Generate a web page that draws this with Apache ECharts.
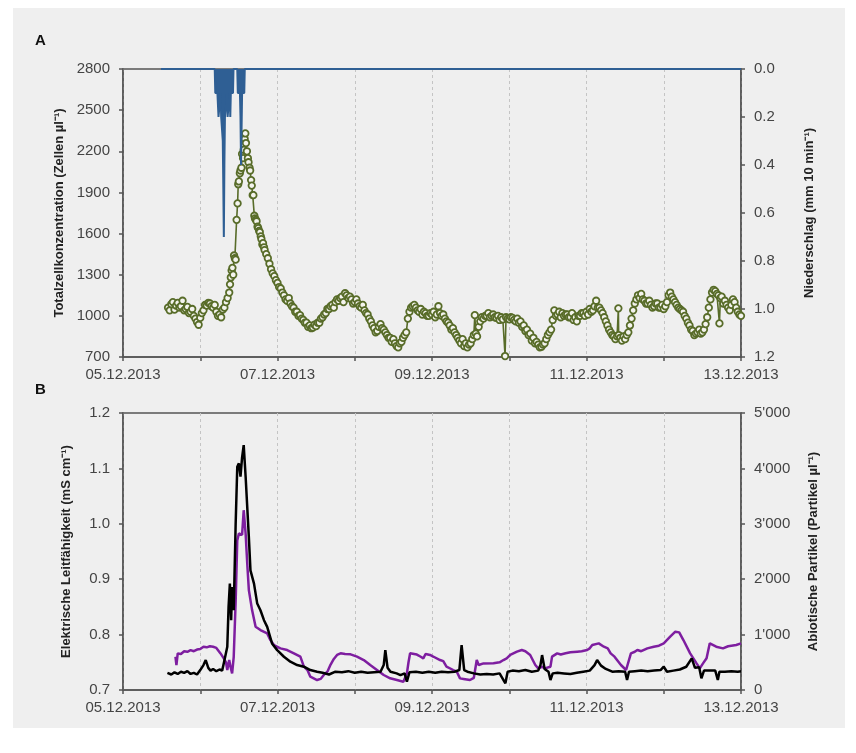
<!DOCTYPE html>
<html><head><meta charset="utf-8">
<script src="https://cdn.jsdelivr.net/npm/echarts@6/dist/echarts.min.js"></script>
<style>html,body{margin:0;padding:0;background:#fff;}#c{width:856px;height:753px;}</style>
</head><body><div id="c"></div>
<script>
// x values are hours since 05.12.2013 00:00
const xTickLabels = ['05.12.2013','','07.12.2013','','09.12.2013','','11.12.2013','','13.12.2013'];

// Niederschlag (mm 10 min-1)
const precip = [[11.8,0],[28.5,0],[28.67,0.1],[28.83,0.1],[29.0,0.1],[29.17,0.1],[29.33,0.1],[29.5,0.1],[29.67,0.2],[29.83,0.2],[30.0,0.2],[30.17,0.2],[30.33,0.1],[30.5,0.2],[30.67,0.2],[30.83,0.2],[31.0,0.3],[31.17,0.5],[31.33,0.7],[31.5,0.4],[31.67,0.2],[31.83,0.2],[32.0,0.2],[32.17,0.2],[32.33,0.1],[32.5,0.2],[32.67,0.2],[32.83,0.2],[33.0,0.2],[33.17,0.1],[33.33,0.2],[33.5,0.1],[33.67,0.1],[33.83,0.1],[34.0,0.1],[34.17,0.1],[34.33,0],[35.5,0],[35.67,0.1],[35.83,0.1],[36.0,0.1],[36.17,0.1],[36.33,0.1],[36.5,0.2],[36.67,0.4],[36.83,0.4],[37.0,0.1],[37.17,0.1],[37.33,0.1],[37.5,0.1],[37.67,0.1],[37.83,0],[192,0]];

// Totalzellkonzentration (Zellen µl-1)
const cells = [[14,1060],[14.5,1040],[15,1085],[15.5,1100],[16,1045],[16.5,1075],[17,1095],[17.5,1060],[18,1070],[18.5,1110],[19,1040],[19.5,1050],[20,1065],[20.5,1020],[21,1030],[21.5,1050],[22,1000],[22.5,980],[23,955],[23.5,935],[24,985],[24.5,1020],[25,1040],[25.5,1080],[26,1075],[26.5,1095],[27,1090],[27.5,1070],[28,1060],[28.5,1080],[29,1030],[29.5,1000],[30,1010],[30.5,990],[31,1045],[31.5,1060],[32,1100],[32.5,1130],[33,1170],[33.25,1230],[33.5,1280],[33.75,1330],[34,1350],[34.25,1300],[34.5,1440],[34.75,1420],[35,1410],[35.3,1700],[35.6,1820],[35.8,1960],[36,1980],[36.3,2040],[36.5,2060],[36.8,2080],[37,2180],[37.3,2150],[37.5,2210],[37.8,2290],[38,2330],[38.2,2260],[38.5,2200],[38.8,2150],[39,2120],[39.3,2080],[39.5,2060],[39.8,1990],[40,1950],[40.3,1880],[40.5,1880],[40.8,1730],[41,1710],[41.3,1700],[41.5,1690],[41.8,1650],[42,1640],[42.3,1620],[42.5,1610],[42.8,1580],[43,1560],[43.3,1520],[43.5,1530],[43.8,1500],[44,1480],[44.5,1450],[45,1420],[45.5,1380],[46,1340],[46.5,1310],[47,1290],[47.5,1260],[48,1240],[48.5,1210],[49,1200],[49.5,1170],[50,1150],[50.5,1120],[51,1110],[51.5,1130],[52,1090],[52.5,1070],[53,1060],[53.5,1030],[54,1030],[54.5,1000],[55,1005],[55.5,980],[56,970],[56.5,950],[57,950],[57.5,920],[58,930],[58.5,910],[59,915],[59.5,935],[60,925],[60.5,950],[61,950],[61.5,980],[62,990],[62.5,1010],[63,1020],[63.5,1050],[64,1050],[64.5,1070],[65,1080],[65.5,1060],[66,1100],[66.5,1120],[67,1110],[67.5,1130],[68,1140],[68.5,1100],[69,1165],[69.5,1150],[70,1130],[70.5,1140],[71,1120],[71.5,1090],[72,1100],[72.5,1120],[73,1090],[73.5,1070],[74,1060],[74.5,1080],[75,1040],[75.5,1020],[76,1010],[76.5,980],[77,960],[77.5,930],[78,910],[78.5,880],[79,890],[79.5,920],[80,940],[80.5,910],[81,900],[81.5,880],[82,860],[82.5,840],[83,840],[83.5,810],[84,830],[84.5,800],[85,780],[85.5,770],[86,800],[86.5,810],[87,840],[87.5,860],[88,880],[88.5,980],[89,1030],[89.5,1060],[90,1070],[90.5,1080],[91,1060],[91.5,1040],[92,1030],[92.5,1050],[93,1010],[93.5,1030],[94,1020],[94.5,1000],[95,1000],[95.5,1020],[96,1010],[96.5,1030],[97,990],[97.5,1010],[98,1070],[98.5,1020],[99,1000],[99.5,1010],[100,980],[100.5,960],[101,950],[101.5,930],[102,900],[102.5,910],[103,880],[103.5,860],[104,840],[104.5,820],[105,800],[105.5,830],[106,780],[106.5,800],[107,770],[107.5,790],[108,800],[108.5,830],[109,860],[109.3,1005],[109.6,870],[110,850],[110.5,920],[111,960],[111.5,990],[112,980],[112.5,1000],[113,1000],[113.5,1020],[114,990],[114.5,1000],[115,1010],[115.5,990],[116,985],[116.5,1000],[117,970],[117.5,990],[118,975],[118.7,707],[119,990],[119.5,980],[120,975],[120.5,990],[121,985],[121.5,970],[122,960],[122.5,980],[123,950],[123.5,960],[124,920],[124.5,930],[125,890],[125.5,900],[126,860],[126.5,870],[127,820],[127.5,840],[128,800],[128.5,810],[129,790],[129.5,770],[130,775],[130.5,790],[131,800],[131.5,830],[132,860],[132.5,880],[133,900],[133.5,970],[134,1040],[134.5,1000],[135,1010],[135.5,1030],[136,990],[136.5,1020],[137,1000],[137.5,1010],[138,1010],[138.5,990],[139,990],[139.5,1020],[140,970],[140.5,990],[141,960],[141.5,1000],[142,1000],[142.5,1020],[143,1020],[143.5,1000],[144,1030],[144.5,1010],[145,1050],[145.5,1030],[146,1040],[146.5,1070],[147,1110],[147.5,1060],[148,1060],[148.5,1040],[149,1020],[149.5,990],[150,960],[150.5,930],[151,900],[151.5,880],[152,860],[152.5,850],[153,830],[153.5,850],[153.9,1055],[154,860],[154.5,840],[155,820],[155.5,850],[156,830],[156.5,860],[157,880],[157.5,930],[158,980],[158.5,1040],[159,1090],[159.5,1120],[160,1150],[160.5,1130],[161,1160],[161.5,1120],[162,1110],[162.5,1090],[163,1090],[163.5,1110],[164,1080],[164.5,1060],[165,1070],[165.5,1090],[166,1090],[166.5,1060],[167,1060],[167.5,1080],[168,1050],[168.5,1070],[169,1100],[169.5,1150],[170,1170],[170.5,1140],[171,1120],[171.5,1100],[172,1080],[172.5,1060],[173,1050],[173.5,1040],[174,1030],[174.5,1000],[175,980],[175.5,950],[176,930],[176.5,900],[177,890],[177.5,860],[178,870],[178.5,880],[179,900],[179.5,870],[180,880],[180.5,900],[181,940],[181.5,990],[182,1060],[182.5,1120],[183,1170],[183.5,1190],[184,1180],[184.5,1160],[185,1150],[185.3,945],[185.6,1130],[186,1140],[186.5,1090],[187,1110],[187.5,1080],[188,1060],[188.5,1040],[189,1080],[189.5,1120],[190,1100],[190.5,1060],[191,1030],[191.5,1010],[192,1000]];

// Elektrische Leitfähigkeit (mS cm-1)
const conductivity = [[13.8,0.731],[15,0.728],[16,0.732],[17,0.729],[18,0.733],[19,0.731],[20,0.734],[21,0.729],[22,0.731],[23,0.728],[24,0.736],[25,0.745],[25.7,0.754],[26.5,0.74],[27.2,0.735],[28,0.738],[29,0.734],[30,0.737],[30.8,0.735],[31.3,0.748],[32.4,0.778],[32.8,0.85],[33.2,0.892],[33.6,0.826],[33.9,0.886],[34.4,0.844],[35.0,1.0],[35.5,1.103],[36.0,1.109],[36.5,1.085],[37.0,1.12],[37.5,1.142],[38.1,1.085],[38.6,1.03],[39.1,0.976],[39.6,0.916],[40.7,0.892],[41.7,0.856],[42.7,0.844],[43.8,0.826],[44.8,0.814],[46.3,0.784],[47.9,0.772],[50,0.76],[52,0.751],[54.1,0.745],[56.2,0.742],[58.2,0.736],[60.3,0.733],[62,0.731],[64,0.728],[66,0.733],[68,0.732],[70,0.734],[72,0.731],[74,0.733],[76,0.731],[78,0.732],[80,0.733],[81,0.745],[81.5,0.772],[82.2,0.74],[83.1,0.733],[85,0.73],[86.2,0.727],[87.5,0.73],[88.2,0.715],[89,0.732],[91,0.733],[93,0.731],[95,0.733],[97,0.731],[99,0.733],[101,0.732],[103,0.733],[104.5,0.736],[105.2,0.781],[106,0.736],[107,0.733],[109,0.73],[111,0.728],[113,0.729],[115,0.728],[117,0.73],[118.8,0.712],[119.5,0.733],[121,0.735],[123,0.734],[125,0.736],[127,0.733],[129,0.735],[129.7,0.745],[130.2,0.763],[131,0.738],[132.2,0.733],[132.8,0.718],[133.5,0.73],[135,0.731],[137,0.73],[139,0.729],[141,0.731],[143,0.733],[145,0.735],[146.5,0.745],[147.3,0.754],[148.5,0.744],[150,0.738],[152,0.733],[154,0.734],[156,0.733],[156.6,0.718],[157.2,0.733],[159,0.734],[161,0.735],[163,0.734],[165,0.735],[167,0.736],[168,0.742],[169,0.733],[171,0.735],[173,0.737],[175,0.742],[176.7,0.757],[177.7,0.74],[179,0.741],[179.7,0.721],[180.5,0.735],[182,0.735],[184,0.735],[184.8,0.718],[185.3,0.733],[187,0.733],[189,0.734],[191,0.733],[192,0.734]];

// Abiotische Partikel (Partikel µl-1)
const particles = [[16.3,600],[16.6,450],[17,660],[18,650],[19,700],[20,690],[21,720],[22,700],[23,730],[24,740],[25,780],[26,770],[27,790],[28,780],[29,760],[30.3,660],[31.3,570],[32,500],[32.4,360],[33,540],[33.4,420],[33.9,300],[34.4,600],[35,1600],[35.5,2700],[36,2825],[36.5,2850],[37,2800],[37.5,3245],[38.1,2820],[38.6,2284],[39.1,1803],[40.1,1442],[41.2,1142],[42.7,1082],[44.8,1022],[45.8,900],[46.9,811],[48.9,751],[51,721],[53.1,661],[55.1,601],[56.2,421],[57.3,361],[58.2,240],[58.8,210],[60.3,180],[61.4,200],[62.5,280],[63.5,331],[64.5,460],[65.5,560],[66.5,632],[67.6,662],[69,650],[70.7,644],[72.7,602],[74.8,541],[76.8,451],[78.9,361],[81,271],[83,211],[85.1,180],[87.1,150],[88.2,300],[88.7,500],[89.2,662],[91.3,640],[92.5,600],[93.3,572],[94,650],[95.4,632],[96.5,600],[98.5,541],[99.5,520],[100.5,421],[102.6,361],[103.7,330],[104.7,210],[105.8,200],[107.8,180],[109,220],[109.9,541],[110.5,451],[112,480],[115.1,481],[117,500],[118.2,541],[119.2,572],[120.3,632],[122.4,692],[123.9,722],[125,700],[126.5,632],[128.1,451],[129,391],[130.2,420],[131,391],[132.8,421],[133.3,602],[134.9,662],[136,640],[137.5,662],[139,680],[141.1,692],[142.5,700],[144.2,722],[145,752],[145.8,812],[147.8,842],[149.4,782],[150.6,752],[151.5,662],[152.7,602],[154.7,451],[156.3,361],[157.8,662],[159,690],[159.8,722],[161,700],[162.9,752],[164.9,782],[166.5,800],[168,842],[170,963],[171.6,1053],[172.8,1040],[174.1,902],[176.2,662],[178.2,481],[179.2,391],[180.2,480],[181.3,572],[182.3,842],[184.3,782],[186.4,752],[188,790],[190.5,812],[192,842]];

const FONT = "'Liberation Sans', Arial, sans-serif";
const AX = '#555';
const LBL = '#444';

function xAxisDef(gridIndex){
  return {
    type:'value', gridIndex, min:0, max:192, interval:24,
    axisLine:{show:true, onZero:false, lineStyle:{color:AX, width:1.5}},
    axisTick:{show:true, length:4, lineStyle:{color:AX, width:1.5}},
    axisLabel:{color:LBL, fontFamily:FONT, fontSize:15, margin:10,
      formatter:(v)=>xTickLabels[Math.round(v/24)] || ''},
    splitLine:{show:true, lineStyle:{color:'#c4c4c4', type:[3,3], width:1}}
  };
}
function yAxisDef(gridIndex, pos, min, max, interval, fmt, name, extra){
  return Object.assign({
    type:'value', gridIndex, position:pos, min, max, interval,
    axisLine:{show:true, lineStyle:{color:AX, width:1.5}},
    axisTick:{show:true, length:4, lineStyle:{color:AX, width:1.5}},
    axisLabel:{color:LBL, fontFamily:FONT, fontSize:15, margin:13, formatter:fmt},
    splitLine:{show:false},
    name, nameLocation:'middle', nameRotate:90,
    nameTextStyle:{color:'#222', fontFamily:FONT, fontSize:13, fontWeight:'bold'}
  }, extra||{});
}
const apos = (v)=> v===0 ? '0' : String(v/1000)+"'000";

const chart = echarts.init(document.getElementById('c'), null, {renderer:'canvas'});
chart.setOption({
  animation:false,
  backgroundColor:'transparent',
  graphic:[
    {type:'rect', z:-10, shape:{x:13, y:8, width:832, height:720}, style:{fill:'#efefef'}},
    {type:'text', left:35, top:33, style:{text:'A', font:'bold 15px '+FONT, fill:'#111'}},
    {type:'text', left:35, top:382, style:{text:'B', font:'bold 15px '+FONT, fill:'#111'}}
  ],
  grid:[
    {left:123, right:115, top:69, height:288, show:true, borderColor:AX, borderWidth:1.5},
    {left:123, right:115, top:413, height:277, show:true, borderColor:AX, borderWidth:1.5}
  ],
  xAxis:[xAxisDef(0), xAxisDef(1)],
  yAxis:[
    yAxisDef(0,'left',700,2800,300,(v)=>String(v),'Totalzellkonzentration (Zellen µl⁻¹)',{nameGap:54}),
    yAxisDef(0,'right',0,1.2,0.2,(v)=>v.toFixed(1),'Niederschlag (mm 10 min⁻¹)',{inverse:true, nameGap:62}),
    yAxisDef(1,'left',0.7,1.2,0.1,(v)=>v.toFixed(1),'Elektrische Leitfähigkeit (mS cm⁻¹)',{nameGap:50}),
    yAxisDef(1,'right',0,5000,1000,apos,'Abiotische Partikel (Partikel µl⁻¹)',{nameGap:66})
  ],
  series:[
    {type:'line', xAxisIndex:0, yAxisIndex:0, data:cells, symbol:'circle', symbolSize:6.5, showAllSymbol:true,
      lineStyle:{color:'#586c29', width:1.6}, itemStyle:{color:'#f4f4ee', borderColor:'#586c29', borderWidth:1.8}, z:2},
    {type:'line', xAxisIndex:0, yAxisIndex:1, data:precip, symbol:'none',
      lineStyle:{color:'#2f5f94', width:2}, areaStyle:{color:'#2f5f94', opacity:1, origin:'start'}, z:3},
    {type:'line', xAxisIndex:1, yAxisIndex:3, data:particles, symbol:'none',
      lineStyle:{color:'#7e1ea0', width:2.5}, z:2},
    {type:'line', xAxisIndex:1, yAxisIndex:2, data:conductivity, symbol:'none',
      lineStyle:{color:'#000', width:2.5}, z:3}
  ]
});
</script></body></html>
